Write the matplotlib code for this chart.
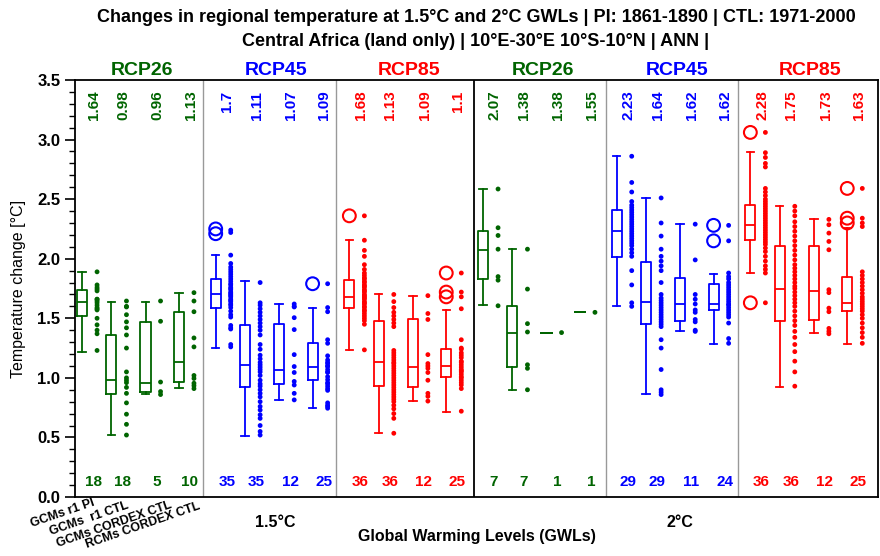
import numpy as np
import matplotlib
matplotlib.use('Agg')
import matplotlib.pyplot as plt
import matplotlib.transforms as mtransforms

plt.rcParams['font.family'] = ['Liberation Sans', 'DejaVu Sans']

# ---- data ----
scenarios = ['RCP26', 'RCP45', 'RCP85', 'RCP26', 'RCP45', 'RCP85']
gwl_labels = ['1.5°C', '2°C']
categories = ['GCMs r1 PI', 'GCMs  r1 CTL', 'GCMs CORDEX CTL', 'RCMs CORDEX CTL']
counts = [18, 18, 5, 10, 35, 35, 12, 25, 36, 36, 12, 25,
          7, 7, 1, 1, 29, 29, 11, 24, 36, 36, 12, 25]

med = [1.64, 0.98, 0.96, 1.13, 1.7, 1.11, 1.07, 1.09, 1.68, 1.13, 1.09, 1.1,
       2.07, 1.38, 1.38, 1.55, 2.23, 1.64, 1.62, 1.62, 2.28, 1.75, 1.73, 1.63]
q1 = [1.515, 0.865, 0.885, 0.965, 1.585, 0.925, 0.95, 0.985, 1.585, 0.935, 0.92, 1.01,
      1.83, 1.095, 1.38, 1.55, 2.015, 1.455, 1.48, 1.57, 2.155, 1.475, 1.485, 1.565]
q3 = [1.74, 1.36, 1.47, 1.555, 1.83, 1.44, 1.455, 1.295, 1.825, 1.48, 1.49, 1.245,
      2.23, 1.60, 1.38, 1.55, 2.405, 1.97, 1.835, 1.79, 2.455, 2.105, 2.105, 1.845]
whis_lo = [1.22, 0.52, 0.865, 0.915, 1.25, 0.51, 0.815, 0.745, 1.235, 0.535, 0.805, 0.715,
           1.61, 0.90, 1.38, 1.55, 1.605, 0.865, 1.395, 1.285, 1.88, 0.925, 1.38, 1.285]
whis_hi = [1.89, 1.64, 1.64, 1.715, 2.03, 1.81, 1.62, 1.59, 2.155, 1.705, 1.69, 1.57,
           2.585, 2.08, 1.38, 1.55, 2.86, 2.51, 2.29, 1.875, 2.895, 2.44, 2.335, 2.26]
outliers = {4: [2.25, 2.21], 7: [1.79], 8: [2.36], 11: [1.88, 1.72, 1.68],
            19: [2.28, 2.15], 20: [3.06, 1.63], 23: [2.59, 2.34, 2.30]}

members = [
    [1.89, 1.78, 1.76, 1.745, 1.73, 1.66, 1.66, 1.645, 1.63, 1.61, 1.59, 1.58, 1.57, 1.50, 1.445, 1.40, 1.37, 1.23],
    [1.645, 1.60, 1.595, 1.53, 1.47, 1.42, 1.36, 1.25, 1.05, 1.0, 0.98, 0.96, 0.92, 0.87, 0.79, 0.695, 0.61, 0.52],
    [1.645, 1.475, 0.965, 0.885, 0.86],
    [1.715, 1.645, 1.555, 1.335, 1.26, 1.02, 0.995, 0.955, 0.935, 0.91],
    [2.24, 2.22, 2.03, 1.96, 1.93, 1.91, 1.89, 1.87, 1.85, 1.83, 1.81, 1.79, 1.78, 1.76, 1.75, 1.74, 1.72, 1.71,
     1.70, 1.69, 1.68, 1.66, 1.65, 1.64, 1.62, 1.61, 1.59, 1.56, 1.53, 1.51, 1.44, 1.42, 1.41, 1.28, 1.26],
    [1.80, 1.63, 1.61, 1.58, 1.55, 1.52, 1.49, 1.46, 1.43, 1.40, 1.36, 1.28, 1.24, 1.19, 1.16, 1.13, 1.11, 1.09,
     1.07, 1.05, 1.02, 0.98, 0.95, 0.93, 0.90, 0.87, 0.84, 0.80, 0.76, 0.73, 0.69, 0.66, 0.60, 0.55, 0.52],
    [1.62, 1.60, 1.595, 1.505, 1.405, 1.195, 1.095, 1.045, 0.97, 0.94, 0.87, 0.815],
    [1.79, 1.59, 1.555, 1.32, 1.29, 1.185, 1.15, 1.13, 1.12, 1.10, 1.095, 1.07, 1.05, 1.045, 1.01, 0.985, 0.96,
     0.95, 0.93, 0.91, 0.895, 0.79, 0.77, 0.76, 0.745],
    [2.36, 2.155, 2.07, 2.02, 1.95, 1.91, 1.88, 1.86, 1.84, 1.83, 1.81, 1.80, 1.78, 1.77, 1.76, 1.74, 1.73, 1.72,
     1.70, 1.69, 1.68, 1.67, 1.66, 1.64, 1.63, 1.62, 1.60, 1.59, 1.57, 1.56, 1.54, 1.52, 1.50, 1.48, 1.45, 1.235],
    [1.70, 1.64, 1.59, 1.55, 1.52, 1.49, 1.46, 1.43, 1.23, 1.21, 1.19, 1.17, 1.15, 1.13, 1.12, 1.10, 1.08, 1.06,
     1.04, 1.02, 1.00, 0.98, 0.96, 0.94, 0.92, 0.90, 0.88, 0.86, 0.84, 0.82, 0.80, 0.77, 0.74, 0.70, 0.66, 0.535],
    [1.69, 1.54, 1.49, 1.195, 1.12, 1.10, 1.08, 1.045, 0.98, 0.87, 0.845, 0.805],
    [1.88, 1.72, 1.68, 1.58, 1.32, 1.25, 1.24, 1.21, 1.19, 1.17, 1.14, 1.13, 1.11, 1.09, 1.07, 1.06, 1.05, 1.03,
     1.01, 1.00, 0.98, 0.96, 0.94, 0.91, 0.72],
    [2.585, 2.26, 2.195, 2.08, 1.85, 1.82, 1.605],
    [2.08, 1.745, 1.455, 1.385, 1.11, 1.08, 0.90],
    [1.38],
    [1.55],
    [2.86, 2.64, 2.56, 2.48, 2.45, 2.43, 2.41, 2.39, 2.37, 2.35, 2.33, 2.31, 2.29, 2.27, 2.25, 2.23, 2.21, 2.19,
     2.17, 2.15, 2.13, 2.11, 2.08, 2.05, 2.02, 1.90, 1.78, 1.63, 1.60],
    [2.51, 2.30, 2.19, 2.08, 2.02, 1.98, 1.94, 1.90, 1.80, 1.70, 1.67, 1.65, 1.63, 1.61, 1.59, 1.57, 1.55, 1.53,
     1.51, 1.49, 1.47, 1.45, 1.43, 1.32, 1.25, 1.07, 0.90, 0.88, 0.86],
    [2.29, 1.99, 1.70, 1.66, 1.62, 1.57, 1.55, 1.49, 1.47, 1.40, 1.39],
    [2.28, 2.15, 1.88, 1.85, 1.83, 1.80, 1.78, 1.76, 1.74, 1.72, 1.70, 1.68, 1.66, 1.64, 1.62, 1.61, 1.59, 1.57,
     1.55, 1.53, 1.51, 1.46, 1.33, 1.29],
    [3.06, 2.89, 2.85, 2.80, 2.77, 2.59, 2.56, 2.53, 2.50, 2.48, 2.46, 2.44, 2.42, 2.40, 2.38, 2.36, 2.34, 2.32,
     2.30, 2.28, 2.26, 2.24, 2.22, 2.20, 2.18, 2.16, 2.14, 2.12, 2.09, 2.06, 2.02, 1.98, 1.94, 1.91, 1.88, 1.63],
    [2.44, 2.40, 2.36, 2.31, 2.27, 2.23, 2.19, 2.15, 2.11, 2.07, 2.03, 1.99, 1.95, 1.92, 1.89, 1.86, 1.83, 1.80,
     1.77, 1.75, 1.72, 1.69, 1.66, 1.63, 1.60, 1.56, 1.52, 1.48, 1.44, 1.39, 1.34, 1.28, 1.22, 1.14, 1.05, 0.93],
    [2.33, 2.285, 2.215, 2.145, 2.075, 1.74, 1.715, 1.585, 1.555, 1.415, 1.39, 1.37],
    [2.59, 2.34, 2.30, 2.27, 1.89, 1.86, 1.83, 1.80, 1.77, 1.74, 1.71, 1.68, 1.66, 1.64, 1.62, 1.60, 1.58, 1.56,
     1.53, 1.50, 1.46, 1.42, 1.38, 1.34, 1.29],
]

# ---- layout ----
green, blue, red = '#006400', '#0000ff', '#ff0000'
colors = [green, blue, red, green, blue, red]
offsets = [0.0, 0.88, 1.9, 2.9]
dividers = [3.61, 7.59, 11.72, 15.67, 19.62]

fig = plt.figure(figsize=(8.8, 5.56), dpi=100)
ax = fig.add_axes([75 / 880, 59 / 556, 803 / 880, 417 / 556])
trans = mtransforms.blended_transform_factory(ax.transData, ax.transAxes)

for g in range(6):
    col = colors[g]
    for c in range(4):
        i = g * 4 + c
        x = 4 * g + offsets[c]
        st = dict(med=med[i], q1=q1[i], q3=q3[i], whislo=whis_lo[i], whishi=whis_hi[i], fliers=[])
        lp = dict(color=col, linewidth=1.3)
        ax.bxp([st], positions=[x], widths=0.3, capwidths=0.22, manage_ticks=False,
               boxprops=lp, whiskerprops=lp, capprops=lp, medianprops=lp)
        ax.scatter(np.full(len(members[i]), x + 0.45), members[i], s=12, color=col,
                   edgecolors='none', zorder=3)
        if i in outliers:
            ax.scatter(np.full(len(outliers[i]), x), outliers[i], s=85, facecolors='none',
                       edgecolors=col, linewidths=1.5, zorder=3)
        ax.text(x + 0.35, 3.41, f'{med[i]:g}', rotation=90, ha='center', va='top',
                color=col, fontsize=11, fontweight='bold')
        ax.text(x + 0.33, 0.13, str(counts[i]), ha='center', va='center',
                color=col, fontsize=11, fontweight='bold')
    ax.text(4 * g + 1.8, 1.003, scenarios[g], transform=trans,
            ha='center', va='bottom', color=col, fontsize=14, fontweight='bold')

for k, xd in enumerate(dividers):
    ax.axvline(xd, color='black' if k == 2 else '#999999', lw=1.3 if k == 2 else 1.0)

ax.set_xlim(-0.21, 23.82)
ax.set_ylim(0, 3.5)
ax.set_xticks([])
ax.set_yticks(np.arange(0, 3.51, 0.5))
ax.set_yticks(np.arange(0, 3.51, 0.1), minor=True)
ax.set_yticklabels([f'{v:.1f}' for v in np.arange(0, 3.51, 0.5)], fontsize=12, fontweight='bold')
ax.tick_params(axis='y', which='major', length=7, width=1.2, direction='out')
ax.tick_params(axis='y', which='minor', length=4, width=1.0, direction='out')
for s in ax.spines.values():
    s.set_linewidth(1.3)
ax.set_ylabel('Temperature change [°C]', fontsize=11.5, labelpad=8)

# category labels below the first group (slanted, stacked)
lab_x = [0.30, 1.32, 2.63, 3.47]
lab_y = [0.0, -0.005, -0.005, -0.007]
for k, lab in enumerate(categories):
    ax.text(lab_x[k], lab_y[k], lab, transform=trans, rotation=19, rotation_mode='anchor',
            ha='right', va='top', fontsize=9, fontweight='bold')

ax.text(5.78, -0.042, gwl_labels[0], transform=trans, ha='center', va='top', fontsize=11.5, fontweight='bold')
ax.text(17.9, -0.042, gwl_labels[1], transform=trans, ha='center', va='top', fontsize=11.5, fontweight='bold')
fig.text(477 / 880, 1 - 537 / 556, 'Global Warming Levels (GWLs)', ha='center', va='center',
         fontsize=11.5, fontweight='bold')

fig.text(476 / 880, 1 - 18 / 556,
         'Changes in regional temperature at 1.5°C and 2°C GWLs | PI: 1861-1890 | CTL: 1971-2000',
         ha='center', va='center', fontsize=13, fontweight='bold')
fig.text(476 / 880, 1 - 42 / 556, 'Central Africa (land only) | 10°E-30°E 10°S-10°N | ANN |',
         ha='center', va='center', fontsize=13, fontweight='bold')

fig.savefig('out.png', dpi=100)
